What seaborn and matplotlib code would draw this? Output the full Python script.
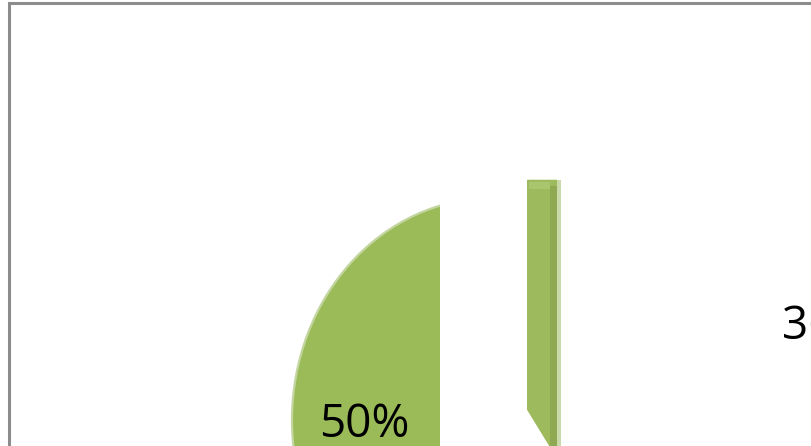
import matplotlib
matplotlib.use("Agg")
import matplotlib.pyplot as plt
from matplotlib.patches import Rectangle, Polygon
import seaborn as sns

# ---- data ----
categories = ["A", "B", "C"]
values = [50, 14, 36]
pct_labels = ["50%", "", "36%"]
slice_colors = ["#9BBB59", "#FFFFFF", "#FFFFFF"]
explode = [0.0, 0.0, 0.1934]

sns.set_theme(style="white")
plt.rcParams["font.family"] = ["Open Sans", "DejaVu Sans"]

XLIM = (-2.46, 1.6)
YLIM = (-0.1171, 1.8919)

fig = plt.figure(figsize=(8.12, 4.46), dpi=100)
fig.patch.set_facecolor("white")
ax = fig.add_axes([0, 0, 1, 1])

wedges, texts = ax.pie(
    values, colors=slice_colors, explode=explode, startangle=90,
    counterclock=True, radius=1.0, frame=True,
    wedgeprops=dict(linewidth=0),
)
ax.set_aspect("auto")
ax.set_xlim(*XLIM)
ax.set_ylim(*YLIM)

# left slice: light rim, radial face trimmed (3D perspective look)
w0 = wedges[0]
w0.set_edgecolor("#C4D6A0")
w0.set_linewidth(1.6)
c0x, c0y = w0.center
cut = c0x - 0.26 * w0.r
clip_poly = Polygon([(cut - 10, c0y - 10), (cut, c0y - 10), (cut, c0y + 10),
                     (cut - 10, c0y + 10)], closed=True, transform=ax.transData)
w0.set_clip_on(True)
w0.set_clip_path(clip_poly)
for w in wedges[1:]:
    w.set_edgecolor("none")

# side face (depth) of the exploded right slice
wc = wedges[2]
cx, cy = wc.center
r = wc.r
depth = 0.15
dark = 0.035
lite = 0.02
low = cy - 0.4
ax.add_patch(Polygon([(cx, cy + r), (cx + depth, cy + r), (cx + depth, low),
                      (cx + 0.11, cy - 0.198), (cx, cy - 0.036)],
                     closed=True, facecolor="#9DBA5C", edgecolor="none", zorder=3))
ax.add_patch(Polygon([(cx + depth - dark, cy + r - 0.03), (cx + depth, cy + r - 0.03),
                      (cx + depth, low), (cx + depth - dark, low)],
                     closed=True, facecolor="#8FA952", edgecolor="none", zorder=3))
ax.add_patch(Polygon([(cx + depth, cy + r), (cx + depth + lite, cy + r),
                      (cx + depth + lite, low), (cx + depth, low)],
                     closed=True, facecolor="#CAD9AA", edgecolor="none", zorder=3))
ax.add_patch(Polygon([(cx + 0.01, cy + r - 0.01), (cx + depth - dark, cy + r - 0.01),
                      (cx + depth - dark, cy + r - 0.04), (cx + 0.01, cy + r - 0.04)],
                     closed=True, facecolor="#A9C56D", edgecolor="none", zorder=3))

# labels
label_pos = [(-0.64, -0.0766, "center"), None, (1.45, 0.3649, "left")]
for lab, pos in zip(pct_labels, label_pos):
    if pos is None or not lab:
        continue
    ax.text(pos[0], pos[1], lab, ha=pos[2], va="baseline",
            fontsize=33, color="black", zorder=5)

ax.axis("off")

# chart-area border (only left and top edges fall inside the crop)
fig.patches.append(Rectangle((9.5 / 812, -0.5), 2.0, 0.5 + (1 - 2.5 / 446),
                             transform=fig.transFigure, fill=False,
                             edgecolor="#8C8C8C", linewidth=2.2, zorder=10))

fig.savefig("out.png", dpi=100, facecolor="white")
